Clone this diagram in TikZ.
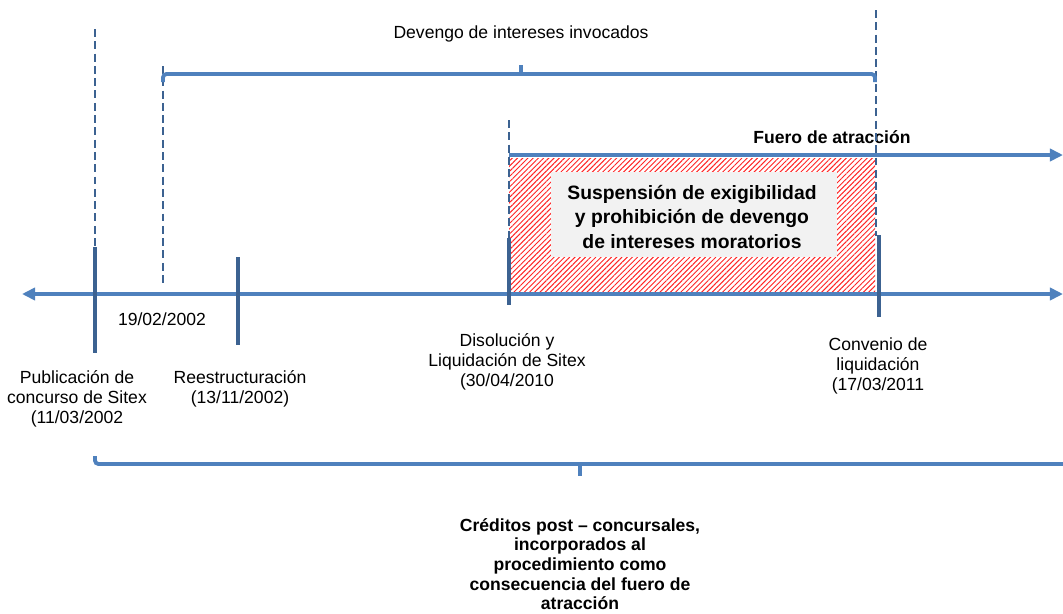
\documentclass[tikz,border=0pt]{standalone}
\usepackage{fontspec}
\setmainfont{Liberation Sans}
\usetikzlibrary{arrows.meta,patterns.meta}
\definecolor{lineblue}{RGB}{79,129,189}
\definecolor{tickblue}{RGB}{60,98,145}
\definecolor{boxgray}{RGB}{242,242,242}
\tikzset{
  axisline/.style={lineblue,line width=2.2pt},
  tickline/.style={tickblue,line width=2pt},
  guide/.style={tickblue,line width=1pt,dash pattern=on 4.5pt off 2.5pt},
  bracket/.style={lineblue,line width=2.2pt,rounded corners=2pt},
  datelbl/.style={align=center,font=\fontsize{10}{11.4}\selectfont},
  boldlbl/.style={align=center,font=\bfseries\fontsize{10}{11.2}\selectfont}
}

\begin{document}
\begin{tikzpicture}[x=0.02cm,y=-0.02cm,>={Triangle[length=7.5pt,width=7pt]}]
        \useasboundingbox (0,0) rectangle (1063,613);

        % tiempo
        \coordinate (axL) at (22,294);
        \coordinate (axR) at (1063,294);
        \fill[white] (509,158) rectangle (875,292);
        \fill[pattern={Lines[angle=45,distance=2.1pt,line width=0.55pt]},pattern color=red!85] (509,158) rectangle (875,292);
        \node[fill=boxgray,minimum width=5.72cm,minimum height=1.7cm,inner sep=0pt] (susp) at (694,214.5) {};
        \node[align=center,font=\bfseries\fontsize{11}{14.2}\selectfont] (susptxt) at (692,217) {Suspensión de exigibilidad\\y prohibición de devengo\\de intereses moratorios};
        \draw[axisline,<->] (axL)--(axR);

        % fuero de atraccion
        \coordinate (fueroL) at (509,155);
        \coordinate (fueroR) at (1063,155);
        \draw[axisline,->] (fueroL)--(fueroR);
        \node[boldlbl] (fuero) at (832,137) {Fuero de atracción};

        % guias
        \coordinate (g1T) at (95,29);   \coordinate (g1B) at (95,247);
        \coordinate (g2T) at (163,66);  \coordinate (g2B) at (163,283);
        \coordinate (g3T) at (509,120); \coordinate (g3B) at (509,238);
        \coordinate (g4T) at (876,10);  \coordinate (g4B) at (876,236);
        \draw[guide] (g1T)--(g1B);
        \draw[guide] (g2T)--(g2B);
        \draw[guide] (g3T)--(g3B);
        \draw[guide] (g4T)--(g4B);

        % marcas
        \coordinate (t1T) at (95,247);  \coordinate (t1B) at (95,353);
        \coordinate (t2T) at (238,257); \coordinate (t2B) at (238,345);
        \coordinate (t3T) at (509,238); \coordinate (t3B) at (509,305);
        \coordinate (t4T) at (879,235); \coordinate (t4B) at (879,317);
        \draw[tickline] (t1T)--(t1B);
        \draw[tickline] (t2T)--(t2B);
        \draw[tickline] (t3T)--(t3B);
        \draw[tickline] (t4T)--(t4B);

        \node[datelbl] (fecha) at (162,319) {19/02/2002};
        \node[datelbl] (publ) at (77,399) {Publicación de\\concurso de Sitex\\(11/03/2002};
        \node[datelbl] (reest) at (240,389) {Reestructuración\\(13/11/2002)};
        \node[datelbl] (disol) at (507,362) {Disolución y\\Liquidación de Sitex\\(30/04/2010};
        \node[datelbl] (conv) at (878,366) {Convenio de\\liquidación\\(17/03/2011};

        % devengo
        \coordinate (devL) at (163,82);
        \coordinate (devR) at (875,82);
        \coordinate (devM) at (521,74);
        \draw[bracket] (devL)--(163,74)--(875,74)--(devR);
        \draw[bracket] (devM)--(521,65);
        \node[datelbl] (deveng) at (521,34) {Devengo de intereses invocados};

        % creditos post concursales
        \coordinate (credL) at (95,456);
        \coordinate (credR) at (1063,464);
        \coordinate (credM) at (580,464);
        \draw[bracket] (credL)--(95,464)--(credR);
        \draw[bracket] (credM)--(580,476);
        \node[boldlbl] (cred) at (580,564) {Créditos post -- concursales,\\incorporados al\\procedimiento como\\consecuencia del fuero de\\atracción};
\end{tikzpicture}
\end{document}
